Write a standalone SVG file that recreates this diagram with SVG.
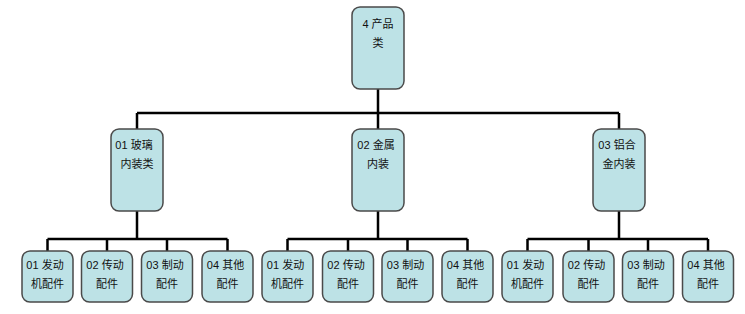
<svg xmlns="http://www.w3.org/2000/svg" width="745" height="314" viewBox="0 0 745 314">
<style>
.box{fill:#bde2e6;stroke:#4a4a4a;stroke-width:1.5}
.t{font-family:"Liberation Sans","Noto Sans CJK SC",sans-serif;font-size:11px;fill:#111;text-anchor:middle}
.c{fill:none;stroke:#000;stroke-width:2.5}
</style>
<rect width="745" height="314" fill="#fff"/>
<g id="connectors">
<path class="c" d="M378 89V113M137 113H619M137 113V129M378 113V129M619 113V129"/>
<path class="c" d="M137 211V239M47.5 239H227.5M47.5 239V251M107 239V251M167 239V251M227.5 239V251"/>
<path class="c" d="M378 211V239M287.5 239H467.5M287.5 239V251M348 239V251M407.5 239V251M467.5 239V251"/>
<path class="c" d="M619 211V239M527.5 239H708M527.5 239V251M588.5 239V251M648 239V251M708 239V251"/>
</g>
<g id="n0"><rect class="box" x="352" y="7" width="52" height="82" rx="8"/><text class="t" x="378" y="28">4 产品</text><text class="t" x="378" y="47">类</text></g>
<g id="n1"><rect class="box" x="111" y="129" width="52" height="82" rx="8"/><text class="t" x="134" y="149">01 玻璃</text><text class="t" x="137" y="168">内装类</text></g>
<g id="n2"><rect class="box" x="352" y="129" width="52" height="82" rx="8"/><text class="t" x="376" y="149">02 金属</text><text class="t" x="378" y="168">内装</text></g>
<g id="n3"><rect class="box" x="593" y="129" width="52" height="82" rx="8"/><text class="t" x="617" y="149">03 铝合</text><text class="t" x="619" y="168">金内装</text></g>
<g id="n1a"><rect class="box" x="22" y="251" width="51" height="51" rx="8"/><text class="t" x="45" y="269">01 发动</text><text class="t" x="47.5" y="288">机配件</text></g>
<g id="n1b"><rect class="box" x="81.5" y="251" width="51" height="51" rx="8"/><text class="t" x="105" y="269">02 传动</text><text class="t" x="107" y="288">配件</text></g>
<g id="n1c"><rect class="box" x="141.5" y="251" width="51" height="51" rx="8"/><text class="t" x="165" y="269">03 制动</text><text class="t" x="167" y="288">配件</text></g>
<g id="n1d"><rect class="box" x="202" y="251" width="51" height="51" rx="8"/><text class="t" x="225.5" y="269">04 其他</text><text class="t" x="227.5" y="288">配件</text></g>
<g id="n2a"><rect class="box" x="262" y="251" width="51" height="51" rx="8"/><text class="t" x="285.5" y="269">01 发动</text><text class="t" x="287.5" y="288">机配件</text></g>
<g id="n2b"><rect class="box" x="322.5" y="251" width="51" height="51" rx="8"/><text class="t" x="346" y="269">02 传动</text><text class="t" x="348" y="288">配件</text></g>
<g id="n2c"><rect class="box" x="382" y="251" width="51" height="51" rx="8"/><text class="t" x="405.5" y="269">03 制动</text><text class="t" x="407.5" y="288">配件</text></g>
<g id="n2d"><rect class="box" x="442" y="251" width="51" height="51" rx="8"/><text class="t" x="465.5" y="269">04 其他</text><text class="t" x="467.5" y="288">配件</text></g>
<g id="n3a"><rect class="box" x="502" y="251" width="51" height="51" rx="8"/><text class="t" x="525.5" y="269">01 发动</text><text class="t" x="527.5" y="288">机配件</text></g>
<g id="n3b"><rect class="box" x="563" y="251" width="51" height="51" rx="8"/><text class="t" x="586.5" y="269">02 传动</text><text class="t" x="588.5" y="288">配件</text></g>
<g id="n3c"><rect class="box" x="622.5" y="251" width="51" height="51" rx="8"/><text class="t" x="646" y="269">03 制动</text><text class="t" x="648" y="288">配件</text></g>
<g id="n3d"><rect class="box" x="682.5" y="251" width="51" height="51" rx="8"/><text class="t" x="706" y="269">04 其他</text><text class="t" x="708" y="288">配件</text></g>
</svg>
